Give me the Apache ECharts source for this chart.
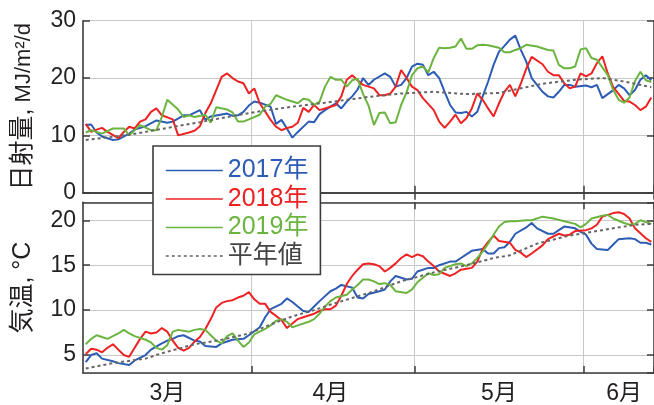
<!DOCTYPE html>
<html>
<head>
<meta charset="utf-8">
<script src="https://cdn.jsdelivr.net/npm/echarts@6/dist/echarts.min.js"></script>
<style>
  html, body { margin: 0; padding: 0; background: #fff; }
  #chart { width: 654px; height: 405px; }
</style>
</head>
<body>
<div id="chart"></div>
<script>
// Daily axis: 1 March – 13 June
const monthNames = ['3月', '4月', '5月', '6月'];
const monthLengths = [31, 30, 31, 13];
const monthStartIdx = [31, 61, 92];      // 4/1, 5/1, 6/1
const monthLabelIdx = [15, 45, 76, 99];  // where the month names sit
const days = [];
monthLengths.forEach((n, m) => { for (let d = 1; d <= n; d++) days.push((m + 3) + '/' + d); });

const seriesNames = ['2017年', '2018年', '2019年', '平年値'];

// Solar radiation, MJ/m²/d  — [day index, value]
const solar2017 = [[0,11.8],[1,11.9],[2,10.5],[3,9.8],[5,9.2],[6,9.3],[8,10.3],[9,11.0],[11,11.6],[13,12.6],[15,12.2],[16,12.4],[18,13.5],[19,13.5],[21,14.4],[22,12.7],[23,13.3],[26,13.8],[27,13.4],[28,13.5],[29,14.1],[30,15.2],[31,15.9],[32,15.7],[34,15.0],[35,12.0],[36,12.7],[37,11.2],[38,9.6],[39,10.6],[41,12.4],[42,12.3],[43,13.7],[44,14.4],[45,15.0],[46,15.6],[47,14.7],[48,15.9],[49,16.8],[50,18.0],[51,20.0],[52,18.8],[53,19.7],[55,20.8],[56,20.2],[57,18.5],[58,18.8],[59,20.0],[60,22.0],[61,22.5],[62,22.3],[63,20.5],[64,21.1],[65,20.0],[66,17.6],[67,15.3],[68,14.0],[69,13.9],[70,14.1],[71,13.3],[72,14.1],[73,16.8],[74,19.4],[75,22.3],[76,24.6],[77,25.6],[78,26.7],[79,27.4],[80,24.9],[81,22.9],[82,20.0],[84,17.6],[85,16.8],[86,16.6],[87,17.6],[88,18.8],[89,18.8],[90,18.5],[92,18.7],[93,18.4],[94,18.8],[95,16.5],[97,17.9],[98,18.8],[99,18.2],[100,17.0],[101,17.9],[102,19.7],[103,20.5],[104,19.6]];
const solar2018 = [[0,12.0],[1,10.6],[2,11.0],[3,11.3],[4,10.6],[6,9.5],[7,10.6],[8,11.5],[9,11.2],[10,12.4],[11,12.8],[12,14.1],[13,14.7],[14,13.5],[16,12.8],[17,10.0],[19,10.5],[20,10.8],[21,11.6],[22,13.9],[23,15.6],[24,17.9],[25,20.2],[26,20.8],[27,20.0],[28,19.4],[29,19.1],[30,17.3],[31,18.2],[32,15.6],[34,12.7],[35,11.5],[36,10.9],[37,11.3],[38,11.5],[39,12.2],[40,14.8],[41,14.1],[42,15.3],[43,14.4],[45,15.0],[46,15.3],[47,16.8],[48,19.7],[49,20.5],[50,19.6],[51,18.8],[53,18.2],[54,17.0],[55,17.0],[56,17.3],[57,18.5],[58,21.4],[59,20.0],[60,18.5],[61,17.9],[62,16.5],[64,14.4],[65,12.4],[66,11.3],[67,12.4],[68,13.6],[69,12.1],[70,13.0],[71,14.7],[72,17.3],[73,16.2],[74,14.7],[75,13.3],[76,15.6],[77,17.6],[78,18.8],[79,16.8],[80,19.0],[81,21.6],[82,23.7],[84,22.4],[85,21.1],[86,20.5],[87,20.5],[88,19.1],[89,18.2],[90,18.5],[91,20.8],[92,20.3],[93,20.8],[94,22.6],[95,23.8],[96,20.8],[97,18.4],[99,16.0],[100,15.9],[101,15.3],[102,14.4],[103,15.0],[104,16.6]];
const solar2019 = [[0,10.5],[1,10.9],[3,10.3],[5,11.2],[7,11.2],[8,10.0],[10,11.8],[12,10.9],[13,10.9],[14,13.2],[15,16.2],[17,14.5],[18,13.2],[19,13.5],[20,13.2],[22,13.6],[23,12.2],[24,14.9],[26,14.5],[27,14.0],[28,12.4],[29,12.4],[30,12.8],[32,13.6],[33,15.0],[34,15.5],[35,17.0],[37,16.2],[38,15.9],[39,15.6],[40,16.4],[41,16.2],[42,15.3],[43,15.9],[44,18.5],[45,20.2],[46,19.7],[47,19.7],[48,18.5],[49,19.6],[50,19.9],[51,17.2],[52,15.2],[53,11.8],[54,13.9],[55,14.0],[56,12.1],[57,12.3],[58,15.3],[59,17.5],[60,20.5],[61,21.7],[62,22.0],[63,21.0],[64,23.5],[65,25.3],[66,25.2],[67,25.3],[68,25.5],[69,26.9],[70,25.1],[71,25.1],[72,25.7],[73,25.8],[74,25.7],[75,25.5],[76,25.3],[77,24.5],[78,24.5],[79,24.9],[80,25.2],[81,25.8],[83,25.5],[85,24.9],[86,24.8],[87,22.3],[88,21.7],[89,21.7],[90,22.0],[91,25.0],[92,25.2],[93,23.5],[94,23.2],[96,20.5],[97,17.9],[98,16.2],[99,15.7],[100,16.6],[101,19.5],[102,21.1],[103,19.6],[104,19.3]];
const solarNormal = [[0,9.2],[8,10.1],[15,11.3],[21,12.3],[26,13.2],[32,14.2],[38,15.0],[44,15.7],[52,16.7],[58,17.3],[64,17.6],[70,17.2],[76,17.4],[80,18.2],[84,19.0],[90,19.7],[95,20.0],[99,19.4],[104,18.4]];

// Air temperature, °C — [day index, value]
const temp2017 = [[0,4.2],[1,5.0],[2,5.2],[3,4.6],[5,4.3],[6,4.1],[8,3.9],[9,4.4],[11,5.0],[12,5.6],[14,6.3],[15,6.6],[16,6.8],[17,7.1],[18,7.2],[20,6.6],[21,6.5],[22,6.0],[24,5.9],[25,6.3],[26,6.5],[27,6.7],[29,6.8],[30,7.2],[32,8.1],[33,9.2],[34,10.1],[36,10.7],[37,11.3],[38,10.9],[40,9.9],[41,9.8],[42,10.4],[43,11.0],[45,12.1],[46,12.4],[47,12.8],[49,12.5],[50,11.4],[51,11.3],[52,11.8],[54,12.1],[55,12.3],[56,13.2],[57,13.8],[59,13.4],[60,13.5],[61,14.3],[63,14.7],[64,14.7],[65,15.0],[67,15.4],[68,15.4],[69,15.8],[70,16.2],[71,16.6],[73,16.8],[74,16.3],[75,16.3],[76,16.9],[77,17.0],[78,17.6],[79,18.5],[81,19.2],[82,19.7],[83,19.1],[85,18.5],[86,18.5],[87,18.9],[88,19.3],[90,19.1],[91,18.7],[92,18.4],[93,17.4],[94,16.8],[96,16.7],[97,17.3],[98,17.9],[100,18.0],[101,17.9],[102,17.5],[103,17.5],[104,17.3]];
const temp2018 = [[0,5.1],[1,5.7],[2,5.6],[3,5.3],[4,5.8],[5,6.2],[6,5.6],[7,5.0],[8,4.8],[9,5.8],[10,6.8],[11,7.6],[12,7.4],[13,7.5],[14,8.0],[15,7.6],[16,6.6],[17,5.8],[18,5.5],[19,5.8],[20,6.5],[21,7.0],[22,7.9],[23,9.0],[24,10.3],[25,10.8],[26,11.0],[27,11.1],[28,11.4],[29,11.6],[30,12.0],[31,11.2],[32,10.7],[33,10.7],[34,9.8],[36,8.9],[37,8.0],[38,8.5],[39,9.0],[40,9.2],[42,9.6],[43,9.9],[44,10.1],[45,10.1],[46,10.5],[47,11.6],[48,12.9],[49,13.8],[50,14.5],[51,15.1],[52,15.2],[53,15.1],[54,14.9],[55,14.3],[56,14.7],[57,15.2],[58,15.8],[59,16.2],[60,15.9],[61,16.2],[62,16.0],[63,15.4],[64,14.9],[65,14.3],[67,13.8],[68,14.1],[69,14.5],[70,14.6],[71,14.7],[72,15.4],[73,16.8],[74,17.6],[75,18.3],[76,17.7],[78,17.5],[79,16.7],[80,16.4],[81,15.9],[82,16.3],[84,17.2],[85,17.9],[87,18.5],[88,18.3],[89,18.4],[90,18.8],[92,18.9],[93,19.1],[94,19.5],[95,20.4],[97,20.8],[98,20.9],[99,20.7],[100,20.2],[101,19.1],[103,18.0],[104,17.6]];
const temp2019 = [[0,6.2],[1,6.8],[2,7.2],[3,7.0],[4,6.8],[6,7.4],[7,7.8],[8,7.4],[9,7.1],[11,6.7],[12,6.4],[13,5.8],[14,5.6],[15,6.1],[16,7.6],[17,7.8],[19,7.6],[20,7.8],[21,7.9],[22,7.8],[23,7.2],[24,6.6],[25,6.3],[26,7.1],[27,7.4],[28,6.6],[29,5.9],[30,6.4],[31,7.3],[33,7.9],[34,8.3],[35,8.8],[36,9.0],[37,8.7],[38,8.1],[39,8.3],[41,8.7],[42,9.0],[43,9.6],[44,10.4],[45,11.0],[46,11.4],[48,11.7],[49,12.3],[50,12.8],[51,13.4],[52,13.4],[53,13.2],[54,12.9],[55,13.0],[56,12.8],[57,12.1],[59,11.9],[60,12.3],[61,13.1],[63,14.1],[64,13.9],[65,14.0],[66,14.7],[68,15.1],[69,15.2],[70,14.9],[71,15.2],[72,15.8],[73,16.5],[74,17.4],[75,18.4],[76,19.3],[77,19.8],[78,19.9],[79,19.9],[81,20.0],[82,20.0],[84,20.4],[86,20.2],[88,19.9],[90,19.6],[91,19.2],[92,19.6],[93,20.2],[95,20.5],[96,20.6],[97,20.2],[99,19.7],[100,19.5],[101,19.6],[102,20.0],[104,19.6]];
const tempNormal = [[0,3.5],[5,4.1],[11,4.6],[14,5.2],[17,5.7],[20,6.2],[25,6.7],[30,7.4],[34,8.4],[38,9.3],[42,10.0],[46,10.8],[52,11.9],[58,13.2],[64,14.2],[70,15.0],[75,15.8],[78,16.1],[83,17.4],[89,18.3],[95,18.9],[101,19.5],[104,19.6]];

const FONT = '"Liberation Sans", Arial, "Noto Sans CJK JP", sans-serif';
const INK = '#231f20';
const FRAME = '#3c3c3c';
const GRID_COLOR = '#c8c8c8';
const colors = ['#2c5cb4', '#ee2222', '#6cb440', '#666666'];

const isMonthStart = (i) => monthStartIdx.indexOf(i) >= 0;
const frameTick = { show: true, inside: true, length: 7, lineStyle: { color: FRAME, width: 1.5 } };

function xAxesFor(gridIndex, withLabels) {
  return [{
    type: 'category', gridIndex, data: days, boundaryGap: true, position: 'bottom',
    axisLine: { show: true, lineStyle: { color: FRAME, width: 1.6 } },
    axisTick: Object.assign({ interval: isMonthStart }, frameTick),
    axisLabel: withLabels ? {
      interval: (i) => monthLabelIdx.indexOf(i) >= 0,
      formatter: (v, i) => monthNames[monthLabelIdx.indexOf(i)] || '',
      fontSize: 23, color: INK, fontFamily: FONT, margin: 9
    } : { show: false },
    splitLine: { show: true, interval: isMonthStart, lineStyle: { color: GRID_COLOR, width: 1 } }
  }, {
    type: 'category', gridIndex, data: days, boundaryGap: true, position: 'top',
    axisLine: { show: true, lineStyle: { color: FRAME, width: 1.6 } },
    axisTick: Object.assign({ interval: isMonthStart }, frameTick),
    axisLabel: { show: false }, splitLine: { show: false }
  }];
}

function yAxesFor(gridIndex, range, name, nameStyle) {
  const left = Object.assign({
    type: 'value', gridIndex, position: 'left',
    axisLine: { show: true, lineStyle: { color: FRAME, width: 1.6 } },
    axisTick: frameTick,
    axisLabel: { fontSize: 23, color: INK, fontFamily: FONT, margin: 7, showMinLabel: range.showMin, showMaxLabel: true },
    splitLine: { show: true, lineStyle: { color: GRID_COLOR, width: 1 } },
    name, nameLocation: 'middle', nameRotate: 90, nameGap: 47, nameTextStyle: nameStyle
  }, range.axis);
  const right = Object.assign({
    type: 'value', gridIndex, position: 'right',
    axisLine: { show: true, lineStyle: { color: FRAME, width: 1.6 } },
    axisTick: frameTick, axisLabel: { show: false }, splitLine: { show: false }
  }, range.axis);
  return [left, right];
}

const solarRange = { axis: { min: 0, max: 30, interval: 10 }, showMin: true };
const tempRange = { axis: { min: 3, max: 22, splitNumber: 4 }, showMin: false };

const yAxis = [
  ...yAxesFor(0, solarRange, '{a|日射量,}{b| MJ/m²/d}', {
    color: INK,
    rich: { a: { fontSize: 25, fontFamily: FONT, color: INK }, b: { fontSize: 22, fontFamily: FONT, color: INK } }
  }),
  ...yAxesFor(1, tempRange, '気温, °C', { color: INK, fontSize: 25, fontFamily: FONT })
];
yAxis[2].axisLabel.showMaxLabel = false;

function line(name, data, color, xi, yi, dotted) {
  return {
    name, type: 'line', data, xAxisIndex: xi, yAxisIndex: yi,
    symbol: 'none', clip: true,
    lineStyle: { color, width: 2, type: dotted ? [3, 3] : 'solid' },
    itemStyle: { color }
  };
}

const panels = [
  { x: 0, y: 0, sets: [solar2017, solar2018, solar2019, solarNormal] },
  { x: 2, y: 2, sets: [temp2017, temp2018, temp2019, tempNormal] }
];
const series = [];
panels.forEach(p => p.sets.forEach((d, k) => series.push(line(seriesNames[k], d, colors[k], p.x, p.y, k === 3))));

const chart = echarts.init(document.getElementById('chart'), null, { renderer: 'canvas' });
chart.setOption({
  animation: false,
  backgroundColor: '#fff',
  grid: [
    { left: 83, top: 20.7, width: 572, height: 172 },
    { left: 83, top: 202.3, width: 572, height: 172.7 }
  ],
  xAxis: [...xAxesFor(0, false), ...xAxesFor(1, true)],
  yAxis,
  legend: {
    orient: 'vertical', left: 153, top: 146,
    padding: [12, 12, 6, 12], itemGap: 3.5, itemWidth: 57, itemHeight: 14,
    backgroundColor: '#fff', borderColor: FRAME, borderWidth: 1.6,
    itemStyle: { color: 'rgba(0,0,0,0)', borderWidth: 0, opacity: 0 },
    lineStyle: { width: 1.6 },
    textStyle: { fontSize: 25, lineHeight: 25, fontFamily: FONT },
    data: seriesNames.map((n, k) => ({ name: n, textStyle: { color: k === 3 ? '#444' : colors[k] } }))
  },
  series
});
</script>
</body>
</html>
